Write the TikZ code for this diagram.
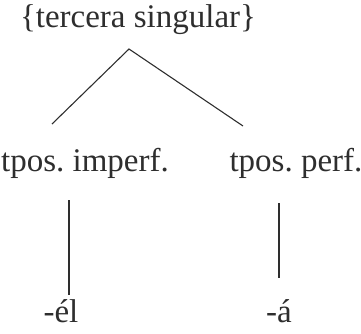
\documentclass[tikz,border=0pt]{standalone}
\usepackage{fontspec}
\setmainfont{Liberation Serif}
\frenchspacing
\definecolor{inkgray}{HTML}{2E2E2E}

\begin{document}
\begin{tikzpicture}[x=1pt, y=-1pt, font=\fontsize{33}{38}\selectfont,
    lbl/.style={inner sep=0pt, text=inkgray},
    branch/.style={draw=inkgray, line width=1.1pt}]
  \useasboundingbox (0,0) rectangle (361,333);

  % Top: the feature set
  \node[lbl] (tercera) at (138, 20) {\{tercera singular\}};
  \coordinate (apex) at (129, 49);

  % Middle: the two tense groups
  \node[lbl] (imperf) at (85, 163) {tpos. imperf.};
  \node[lbl] (perf)   at (296, 163) {tpos. perf.};
  \coordinate (imperfTop) at (52, 124);
  \coordinate (perfTop)   at (243, 126);

  % Bottom: the endings
  \node[lbl] (el) at (61, 311) {-él};
  \node[lbl] (a)  at (279, 311) {-á};
  \coordinate (imperfA) at (69, 200);
  \coordinate (imperfB) at (69, 295);
  \coordinate (perfA)   at (279, 203);
  \coordinate (perfB)   at (279, 278);

  % branches
  \draw[branch] (imperfTop) -- (apex) -- (perfTop);
  \draw[branch] (imperfA) -- (imperfB);
  \draw[branch] (perfA) -- (perfB);
\end{tikzpicture}
\end{document}
